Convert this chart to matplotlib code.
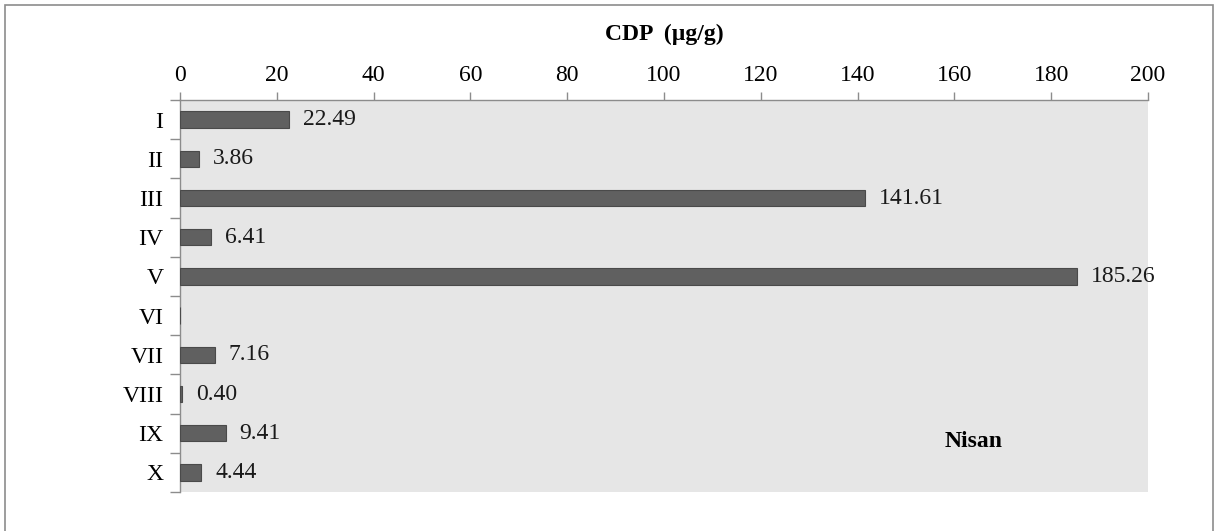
import matplotlib.pyplot as plt
from matplotlib.patches import Rectangle

# dati del grafico
categorie = ['I', 'II', 'III', 'IV', 'V', 'VI', 'VII', 'VIII', 'IX', 'X']
valori = [22.49, 3.86, 141.61, 6.41, 185.26, 0.0, 7.16, 0.40, 9.41, 4.44]
etichette = ['22.49', '3.86', '141.61', '6.41', '185.26', None, '7.16', '0.40', '9.41', '4.44']
x_ticks = [0, 20, 40, 60, 80, 100, 120, 140, 160, 180, 200]
titolo = 'CDP  (µg/g)'
nota = 'Nisan'

plt.rcParams['font.family'] = ['Liberation Serif', 'DejaVu Serif']
fs = 17

fig = plt.figure(figsize=(12.15, 5.31), dpi=100)
ax = fig.add_axes([180 / 1215, 1 - 492 / 531, 968 / 1215, 392 / 531])

# bordo esterno della figura
fig.patches.append(Rectangle((5 / 1215, -0.05), 1208 / 1215, 1 - 5 / 531 + 0.05,
                             transform=fig.transFigure, fill=False,
                             edgecolor='#8c8c8c', linewidth=1.2))

ax.set_facecolor('#e6e6e6')
pos = list(range(len(categorie)))
ax.barh(pos, valori, height=0.42, color='#606060', edgecolor='#4a4a4a', linewidth=0.8, zorder=3)

for p, v, e in zip(pos, valori, etichette):
    if e is not None:
        ax.annotate(e, (v, p), xytext=(10, 0), textcoords='offset points',
                    va='center', ha='left', fontsize=fs, color='#1a1a1a')

ax.set_xlim(0, 200)
ax.set_ylim(len(categorie) - 0.5, -0.5)
ax.xaxis.tick_top()
ax.set_xticks(x_ticks)
ax.tick_params(axis='x', length=6, width=1, color='#8c8c8c', labelsize=fs, pad=4)

ax.set_yticks(pos)
ax.set_yticklabels(categorie)
ax.tick_params(axis='y', which='major', length=0, labelsize=fs, pad=12)
ax.set_yticks([i - 0.5 for i in range(len(categorie) + 1)], minor=True)
ax.tick_params(axis='y', which='minor', length=7, width=1, color='#8c8c8c')

for s in ['right', 'bottom']:
    ax.spines[s].set_visible(False)
for s in ['left', 'top']:
    ax.spines[s].set_color('#8c8c8c')
    ax.spines[s].set_linewidth(1)

ax.set_xlabel(titolo, fontsize=fs, fontweight='bold', labelpad=18)
ax.xaxis.set_label_position('top')

ax.text(0.82, 0.13, nota, transform=ax.transAxes, fontsize=fs, fontweight='bold',
        ha='center', va='center')

fig.savefig('out.png', dpi=100)
